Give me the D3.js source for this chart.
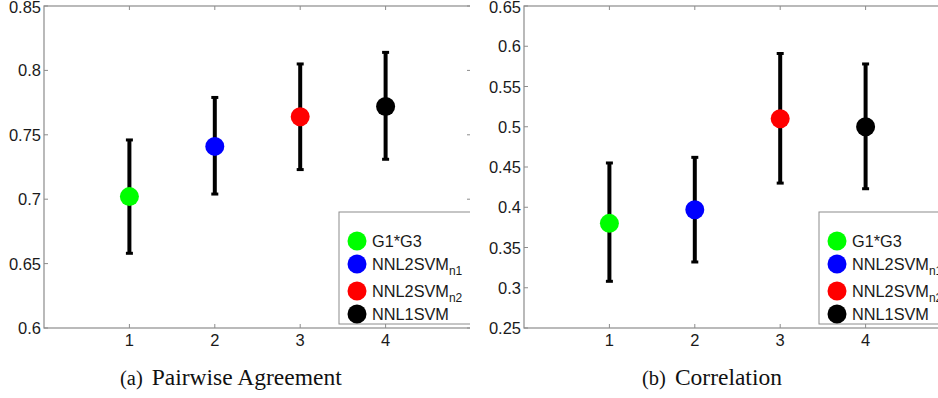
<!DOCTYPE html>
<html>
<head>
<meta charset="utf-8">
<script src="https://cdn.jsdelivr.net/npm/d3@7"></script>
<style>
  html, body { margin: 0; padding: 0; background: #fff; }
  svg { display: block; }
</style>
</head>
<body>
<svg id="chart" width="938" height="398"></svg>
<script>
// categories on the x axis and the legend labels
const methods = [1, 2, 3, 4];
const legendNames = ["G1*G3", "NNL2SVM", "NNL2SVM", "NNL1SVM"];
const legendSubs = ["", "n1", "n2", ""];
const colors = ["#00ff00", "#0000ff", "#ff0000", "#000000"];

// (a) pairwise agreement: mean, upper and lower end of the error bar
const agreeMean = [0.702, 0.741, 0.764, 0.772];
const agreeHigh = [0.746, 0.779, 0.805, 0.814];
const agreeLow = [0.658, 0.704, 0.723, 0.731];
const agreeTicks = [0.6, 0.65, 0.7, 0.75, 0.8, 0.85];

// (b) correlation
const corrMean = [0.380, 0.397, 0.510, 0.500];
const corrHigh = [0.455, 0.462, 0.591, 0.578];
const corrLow = [0.308, 0.332, 0.430, 0.423];
const corrTicks = [0.25, 0.3, 0.35, 0.4, 0.45, 0.5, 0.55, 0.6, 0.65];

const svg = d3.select("#chart");
svg.append("rect").attr("width", 938).attr("height", 398).attr("fill", "#fff");

function drawPanel(cfg) {
  const g = svg.append("g");
  const x = d3.scaleLinear().domain([0, 5]).range([cfg.left, cfg.left + 427]);
  const y = d3.scaleLinear().domain(cfg.domain).range([328, 6]);
  const [x0, x1] = x.range();
  const [yb, yt] = y.range();

  // clip so the panel is cut at its edge like in the figure
  const clipId = "clip" + cfg.id;
  g.append("clipPath").attr("id", clipId)
    .append("rect").attr("x", cfg.clipX).attr("y", 0)
    .attr("width", cfg.clipW).attr("height", 398);
  const pg = g.append("g").attr("clip-path", `url(#${clipId})`);

  // axes box
  pg.append("rect")
    .attr("x", x0).attr("y", yt)
    .attr("width", x1 - x0).attr("height", yb - yt)
    .attr("fill", "none").attr("stroke", "#8c8c8c").attr("stroke-width", 1.2);

  // inward ticks on all four sides
  const tk = pg.append("g").attr("stroke", "#8c8c8c").attr("stroke-width", 1);
  methods.forEach(m => {
    tk.append("line").attr("x1", x(m)).attr("x2", x(m)).attr("y1", yb).attr("y2", yb - 4);
    tk.append("line").attr("x1", x(m)).attr("x2", x(m)).attr("y1", yt).attr("y2", yt + 4);
  });
  cfg.ticks.forEach(t => {
    tk.append("line").attr("x1", x0).attr("x2", x0 + 4).attr("y1", y(t)).attr("y2", y(t));
    tk.append("line").attr("x1", x1).attr("x2", x1 - 4).attr("y1", y(t)).attr("y2", y(t));
  });

  // tick labels
  const lab = g.append("g")
    .attr("font-family", "'Liberation Sans', Arial, sans-serif")
    .attr("font-size", 16.5).attr("fill", "#1a1a1a");
  cfg.ticks.forEach(t => {
    lab.append("text").attr("x", x0 - 3).attr("y", Math.max(y(t) + 6, 12.5))
      .attr("text-anchor", "end").text(d3.format("~g")(t));
  });
  methods.forEach(m => {
    lab.append("text").attr("x", x(m)).attr("y", 346)
      .attr("text-anchor", "middle").text(m);
  });

  // error bars
  const eb = pg.append("g").attr("stroke", "#000").attr("stroke-width", 4);
  methods.forEach((m, i) => {
    eb.append("line").attr("x1", x(m)).attr("x2", x(m))
      .attr("y1", y(cfg.high[i])).attr("y2", y(cfg.low[i]));
    [cfg.high[i], cfg.low[i]].forEach(v => {
      eb.append("line").attr("x1", x(m) - 3.5).attr("x2", x(m) + 3.5)
        .attr("y1", y(v)).attr("y2", y(v)).attr("stroke-width", 3);
    });
  });

  // mean markers
  pg.append("g").selectAll("circle").data(methods).join("circle")
    .attr("cx", d => x(d))
    .attr("cy", (d, i) => y(cfg.mean[i]))
    .attr("r", 9.5)
    .attr("fill", (d, i) => colors[i]);

  // legend
  const lx = cfg.legendX;
  const leg = pg.append("g");
  leg.append("rect").attr("x", lx).attr("y", 212).attr("width", 150).attr("height", 112)
    .attr("fill", "#fff").attr("stroke", "#8c8c8c").attr("stroke-width", 1);
  const rowsY = [241, 264, 291, 314];
  legendNames.forEach((name, i) => {
    leg.append("circle").attr("cx", lx + 18).attr("cy", rowsY[i]).attr("r", 9.5)
      .attr("fill", colors[i]);
    const t = leg.append("text").attr("x", lx + 33).attr("y", rowsY[i] + 6)
      .attr("font-family", "'Liberation Sans', Arial, sans-serif")
      .attr("font-size", 16.3).attr("fill", "#1a1a1a").text(name);
    if (legendSubs[i]) {
      t.append("tspan").attr("dy", 5).attr("font-size", 12).text(legendSubs[i]);
    }
  });

  // caption: smaller label, then the title
  const cap = svg.append("text").attr("x", cfg.captionX).attr("y", 385)
    .attr("font-family", "'Liberation Serif', 'Times New Roman', serif")
    .attr("fill", "#111");
  cap.append("tspan").attr("font-size", 20.5).text(cfg.label);
  cap.append("tspan").attr("dx", 9).attr("font-size", 23.5).text(cfg.caption);
}

drawPanel({
  id: "a", left: 44, domain: [0.6, 0.85], ticks: agreeTicks,
  mean: agreeMean, high: agreeHigh, low: agreeLow,
  clipX: 0, clipW: 470, legendX: 339,
  label: "(a)", caption: "Pairwise Agreement", captionX: 120
});

drawPanel({
  id: "b", left: 524, domain: [0.25, 0.65], ticks: corrTicks,
  mean: corrMean, high: corrHigh, low: corrLow,
  clipX: 470, clipW: 468, legendX: 819,
  label: "(b)", caption: "Correlation", captionX: 642
});
</script>
</body>
</html>
